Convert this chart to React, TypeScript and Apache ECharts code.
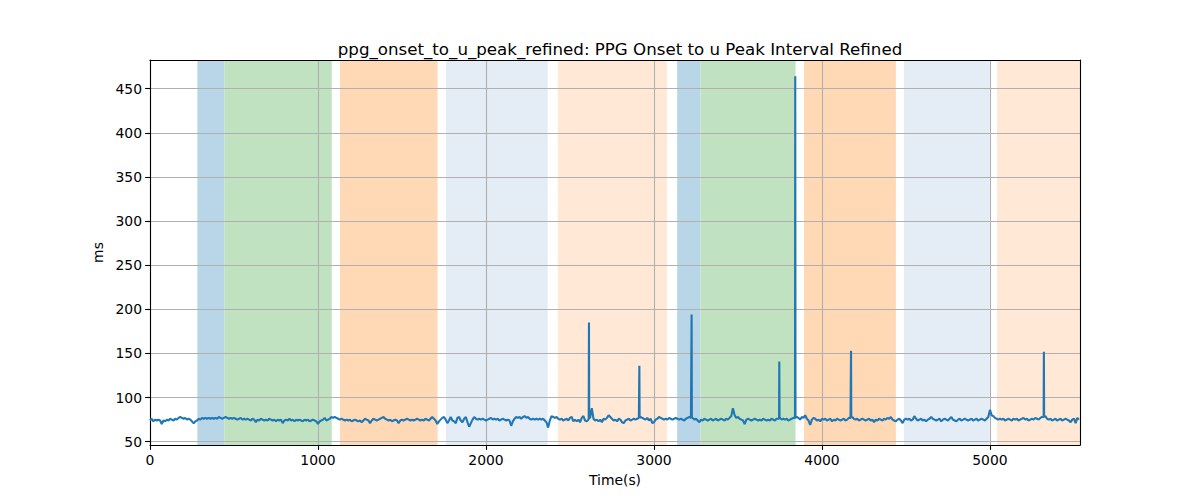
import React, { useEffect, useRef } from "react";
import * as echarts from "echarts";

const TITLE = "ppg_onset_to_u_peak_refined: PPG Onset to u Peak Interval Refined";
const X_LABEL = "Time(s)";
const Y_LABEL = "ms";

// baseline: one value every 10 s, starting at t = 0
const SAMPLE_STEP_S = 10;
const values = [
  74, 76, 73, 75, 74, 75, 74, 70, 74, 73,
  75, 74, 76, 75, 74, 76, 75, 77, 78, 77,
  76, 77, 75, 76, 75, 73, 71, 73, 74, 76,
  75, 77, 76, 77, 76, 77, 76, 77, 76, 77,
  76, 78, 77, 76, 77, 78, 77, 76, 77, 76,
  77, 76, 75, 76, 77, 75, 76, 75, 76, 75,
  74, 76, 75, 72, 75, 74, 76, 75, 74, 75,
  74, 76, 75, 74, 75, 73, 75, 74, 75, 71,
  74, 75, 74, 76, 74, 75, 73, 75, 74, 75,
  74, 73, 75, 74, 75, 73, 74, 75, 74, 73,
  70, 73, 74, 75, 77, 74, 75, 76, 78, 77,
  78, 77, 76, 75, 76, 75, 74, 75, 74, 75,
  73, 74, 75, 74, 73, 74, 72, 74, 76, 75,
  74, 71, 74, 76, 75, 74, 75, 76, 77, 78,
  76, 75, 74, 75, 73, 74, 75, 74, 71, 74,
  75, 74, 75, 76, 75, 74, 75, 74, 75, 76,
  75, 74, 75, 74, 76, 75, 74, 76, 78, 76,
  74, 70, 73, 75, 77, 78, 75, 71, 74, 78,
  74, 73, 71, 77, 78, 74, 72, 76, 78, 72,
  67, 71, 75, 78, 76, 75, 76, 75, 76, 75,
  74, 75, 76, 77, 75, 76, 75, 76, 74, 75,
  76, 75, 74, 75, 74, 68, 73, 76, 78, 77,
  78, 76, 78, 79, 77, 78, 76, 75, 76, 75,
  76, 75, 76, 75, 76, 74, 72, 66, 74, 79,
  78, 77, 78, 76, 75, 76, 74, 75, 76, 74,
  77, 78, 73, 75, 73, 75, 72, 77, 79, 74,
  73, 75, 77, 88, 76, 74, 75, 73, 75, 72,
  76, 75, 77, 80, 78, 76, 74, 75, 73, 76,
  75, 72, 71, 74, 75, 76, 74, 75, 76, 75,
  76, 77, 78, 77, 76, 75, 77, 74, 76, 71,
  72, 75, 76, 78, 77, 76, 75, 76, 75, 77,
  76, 75, 76, 77, 76, 75, 76, 75, 74, 76,
  77, 78, 77, 77, 75, 76, 74, 72, 75, 74,
  76, 75, 74, 75, 76, 74, 75, 76, 74, 75,
  76, 75, 74, 76, 75, 77, 79, 88, 80, 77,
  78, 76, 75, 74, 70, 75, 76, 75, 74, 75,
  76, 75, 74, 75, 74, 76, 75, 74, 75, 74,
  76, 75, 74, 76, 76, 77, 75, 76, 75, 76,
  74, 75, 76, 77, 77, 78, 77, 75, 78, 77,
  80, 76, 74, 69, 75, 77, 76, 74, 75, 73,
  76, 75, 76, 74, 75, 76, 73, 75, 74, 76,
  75, 74, 75, 76, 74, 75, 77, 77, 78, 76,
  75, 76, 74, 75, 76, 75, 74, 75, 76, 74,
  75, 72, 75, 74, 76, 75, 74, 76, 75, 77,
  76, 78, 75, 74, 73, 75, 76, 74, 71, 75,
  76, 75, 76, 74, 75, 79, 76, 74, 75, 76,
  74, 75, 73, 75, 76, 78, 76, 75, 74, 75,
  76, 73, 75, 76, 75, 74, 76, 78, 75, 74,
  73, 75, 76, 74, 75, 76, 75, 74, 75, 76,
  74, 75, 76, 74, 75, 76, 75, 74, 76, 78,
  86, 80, 79, 77, 76, 75, 76, 75, 76, 74,
  75, 76, 75, 74, 76, 75, 76, 74, 75, 76,
  77, 75, 76, 74, 75, 76, 75, 77, 76, 75,
  77, 78, 78, 79, 76, 75, 76, 74, 75, 76,
  74, 75, 76, 74, 75, 76, 75, 74, 72, 75,
  76, 71, 77, 75,
];

// isolated single-beat spikes: time (s), peak (ms), and the level on either side
const spikeTimes = [2613, 2913, 3224, 3746, 3841, 4173, 5321];
const spikePeaks = [185, 136, 194, 141, 464, 153, 152];
const spikeBase = [77, 77, 77, 76, 77, 77, 78];

// shaded phases (seconds) and their kind
const bandStart = [282, 442, 1131, 1762, 2428, 3138, 3276, 3893, 4488, 5042];
const bandEnd = [442, 1082, 1712, 2367, 3077, 3276, 3843, 4440, 4998, 5536];
const bandKind = [0, 1, 2, 3, 4, 0, 1, 2, 3, 4];

const xTicks = [0, 1000, 2000, 3000, 4000, 5000];
const yTicks = [50, 100, 150, 200, 250, 300, 350, 400, 450];

const X_MIN = 0;
const X_MAX = 5536;
const Y_MIN = 46.25;
const Y_MAX = 482.5;

const BAND_COLORS = ["#B9D5E8", "#C0E2C0", "#FFD8B6", "#E4ECF6", "#FFE9D6"];
const FONT = "DejaVu Sans";

export default function App() {
  const ref = useRef<HTMLDivElement>(null);

  useEffect(() => {
    if (!ref.current) return;
    const chart = echarts.init(ref.current, null, { renderer: "svg" });

    const points: number[][] = values.map((v, i) => [i * SAMPLE_STEP_S, v]);
    spikeTimes.forEach((t, i) => {
      points.push([t - 1.5, spikeBase[i]]);
      points.push([t, spikePeaks[i]]);
      points.push([t + 1.5, spikeBase[i]]);
    });
    points.sort((a, b) => a[0] - b[0]);

    const bandData = bandStart.map((s, i) => [s, bandEnd[i], bandKind[i]]);

    const spine = { show: true, onZero: false, lineStyle: { color: "#000", width: 1.1 } };
    const tickStyle = { color: "#000", width: 1.1 };
    const labelStyle = { color: "#000", fontSize: 13.9, fontFamily: FONT };
    const plain = (v: number) => String(v);

    chart.setOption({
      animation: false,
      backgroundColor: "#fff",
      title: {
        text: TITLE,
        left: 615,
        top: 36,
        textAlign: "center",
        textStyle: { fontFamily: FONT, fontSize: 16.67, fontWeight: "normal", color: "#000" },
      },
      grid: { left: 150, right: 120, top: 60, bottom: 55, containLabel: false },
      xAxis: [
        {
          type: "value",
          min: X_MIN,
          max: X_MAX,
          interval: 1000,
          position: "bottom",
          z: 2,
          axisLine: spine,
          axisTick: { show: true, length: 4.9, customValues: xTicks, lineStyle: tickStyle },
          axisLabel: { ...labelStyle, customValues: xTicks, margin: 8, formatter: plain },
          splitLine: { show: true, lineStyle: { color: "#b0b0b0", width: 1.1 } },
          name: X_LABEL,
          nameLocation: "middle",
          nameGap: 28,
          nameTextStyle: { ...labelStyle },
        },
        {
          type: "value",
          min: X_MIN,
          max: X_MAX,
          position: "top",
          z: 2,
          axisLine: spine,
          axisTick: { show: false },
          axisLabel: { show: false },
          splitLine: { show: false },
        },
      ],
      yAxis: [
        {
          type: "value",
          min: Y_MIN,
          max: Y_MAX,
          splitNumber: 9,
          minInterval: 50,
          maxInterval: 50,
          position: "left",
          z: 2,
          axisLine: spine,
          axisTick: { show: true, length: 4.9, customValues: yTicks, lineStyle: tickStyle },
          axisLabel: { ...labelStyle, customValues: yTicks, margin: 8, formatter: plain },
          splitLine: { show: true, lineStyle: { color: "#b0b0b0", width: 1.1 } },
          name: Y_LABEL,
          nameLocation: "middle",
          nameGap: 36,
          nameTextStyle: { ...labelStyle },
        },
        {
          type: "value",
          min: Y_MIN,
          max: Y_MAX,
          position: "right",
          z: 2,
          axisLine: spine,
          axisTick: { show: false },
          axisLabel: { show: false },
          splitLine: { show: false },
        },
      ],
      series: [
        {
          type: "custom",
          z: 1,
          xAxisIndex: 0,
          yAxisIndex: 0,
          encode: { x: [0, 1] },
          data: bandData,
          silent: true,
          renderItem: (_params: any, api: any) => {
            const s = api.value(0);
            const e = api.value(1);
            const k = api.value(2);
            const p0 = api.coord([s, Y_MAX]);
            const p1 = api.coord([e, Y_MIN]);
            return {
              type: "rect",
              shape: { x: p0[0], y: p0[1], width: p1[0] - p0[0], height: p1[1] - p0[1] },
              style: { fill: BAND_COLORS[k] },
            };
          },
        },
        {
          type: "line",
          z: 3,
          xAxisIndex: 0,
          yAxisIndex: 0,
          data: points,
          showSymbol: false,
          symbol: "none",
          lineStyle: { color: "#1f77b4", width: 2.1 },
          clip: true,
        },
      ],
    });

    return () => chart.dispose();
  }, []);

  return (
    <div
      ref={ref}
      style={{ position: "fixed", left: 0, top: 0, width: 1200, height: 500, background: "#fff" }}
    />
  );
}
